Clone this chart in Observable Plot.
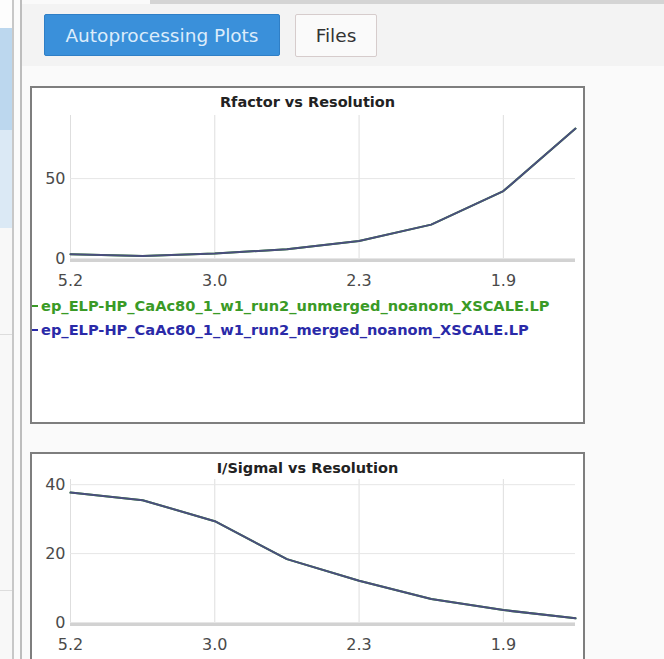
<!DOCTYPE html>
<html>
<head>
<meta charset="utf-8">
<script src="https://cdn.jsdelivr.net/npm/d3@7"></script>
<script src="https://cdn.jsdelivr.net/npm/@observablehq/plot@0.6"></script>
<style>
  html, body { margin:0; padding:0; }
  body { width:664px; height:659px; overflow:hidden; position:relative; background:#fafafa;
         font-family:"DejaVu Sans", Verdana, sans-serif; }
  .abs { position:absolute; }
  .btn { position:absolute; box-sizing:border-box; display:flex; align-items:center; justify-content:center; font-size:18.5px; border-radius:2px; }
  .box { position:absolute; box-sizing:border-box; border:2px solid #7e7e7e; background:#fff; overflow:hidden; }
  .ttl { position:absolute; left:0; width:100%; text-align:center; font-weight:bold; font-size:14.5px; color:#222; }
  .leg { position:absolute; left:0; font-weight:bold; font-size:14.6px; white-space:nowrap; display:flex; align-items:center; }
  .leg i { display:inline-block; width:6px; height:2px; margin-right:3px; }
</style>
</head>
<body>
<!-- left sidebar -->
<div class="abs" style="left:0;top:0;width:12px;height:659px;background:#f8f8f8"></div>
<div class="abs" style="left:0;top:0;width:12px;height:28px;background:#fdfdfd"></div>
<div class="abs" style="left:0;top:28px;width:12px;height:102px;background:#bcd7ee"></div>
<div class="abs" style="left:0;top:130px;width:12px;height:98px;background:#dbe9f5"></div>
<div class="abs" style="left:0;top:334px;width:12px;height:1px;background:#ddd"></div>
<div class="abs" style="left:0;top:590px;width:12px;height:1px;background:#ddd"></div>
<div class="abs" style="left:12px;top:0;width:2px;height:659px;background:#c8c8c8"></div>
<div class="abs" style="left:14px;top:0;width:6px;height:659px;background:#fbfbfb"></div>
<div class="abs" style="left:20px;top:0;width:2px;height:659px;background:#bdbdbd"></div>
<!-- main panel -->
<div class="abs" style="left:22px;top:0;width:642px;height:659px;background:#fafafa"></div>
<div class="abs" style="left:22px;top:4px;width:642px;height:62px;background:#f3f3f3"></div>
<div class="abs" style="left:150px;top:0;width:514px;height:4px;background:#d4d4d4"></div>
<div class="btn" style="left:44px;top:14px;width:236px;height:42px;background:#3a90da;color:#dcecfb;border:1px solid #2f7fc6">Autoprocessing Plots</div>
<div class="btn" style="left:295px;top:14px;width:82px;height:43px;background:#fafafa;color:#333;border:1px solid #d6cccc">Files</div>

<div class="box" style="left:30px;top:86px;width:555px;height:338px">
  <div class="ttl" style="top:6px">Rfactor vs Resolution</div>
  <div id="c1" class="abs" style="left:0;top:20px"></div>
  <div class="leg" style="top:209px;color:#3a9a26"><i style="background:#3a9a26"></i><span id="l1"></span></div>
  <div class="leg" style="top:233px;color:#2a2aa8"><i style="background:#2a2aa8"></i><span id="l2"></span></div>
</div>

<div class="box" style="left:30px;top:452px;width:555px;height:260px">
  <div class="ttl" style="top:6px">I/Sigmal vs Resolution</div>
  <div id="c2" class="abs" style="left:0;top:18px"></div>
</div>

<script>
// ---- data ----
const seriesNames = [
  "ep_ELP-HP_CaAc80_1_w1_run2_unmerged_noanom_XSCALE.LP",
  "ep_ELP-HP_CaAc80_1_w1_run2_merged_noanom_XSCALE.LP"
];
const binIndex = [0, 1, 2, 3, 4, 5, 6, 7];
const resTickIndex = [0, 2, 4, 6];
const resTickLabels = ["5.2", "3.0", "2.3", "1.9"];
const rfactorUnmerged = [2.7, 1.6, 3.1, 5.8, 10.9, 21.2, 42.2, 81.3];
const rfactorMerged   = [2.7, 1.6, 3.1, 5.8, 10.9, 21.2, 42.2, 81.3];
const isigUnmerged = [37.7, 35.5, 29.4, 18.4, 12.1, 6.8, 3.6, 1.2];
const isigMerged   = [37.7, 35.5, 29.4, 18.4, 12.1, 6.8, 3.6, 1.2];

document.getElementById("l1").textContent = seriesNames[0];
document.getElementById("l2").textContent = seriesNames[1];

function rows(vals, name) { return binIndex.map((b, i) => ({bin: b, value: vals[i], series: name})); }

function chart(unmerged, merged, yMax, yTicks) {
  const data = [...rows(unmerged, seriesNames[0]), ...rows(merged, seriesNames[1])];
  return Plot.plot({
    width: 551,
    height: 186,
    marginLeft: 38,
    marginRight: 8,
    marginTop: 7,
    marginBottom: 36,
    style: {fontFamily: "'DejaVu Sans', Verdana, sans-serif", fontSize: "16px", color: "#4a4a4a", background: "transparent", overflow: "visible"},
    x: {domain: [0, 7]},
    y: {domain: [0, yMax]},
    marks: [
      Plot.gridX(resTickIndex, {stroke: "#dedede", strokeOpacity: 1}),
      Plot.gridY(yTicks, {stroke: "#e6e6e6", strokeOpacity: 1}),
      Plot.ruleY([0], {stroke: "#d2d2d2", strokeWidth: 3, dy: 2}),
      Plot.line(data.filter(d => d.series === seriesNames[0]), {x: "bin", y: "value", stroke: "#3a9a26", strokeWidth: 2}),
      Plot.line(data.filter(d => d.series === seriesNames[1]), {x: "bin", y: "value", stroke: "#4a4e7e", strokeWidth: 2}),
      Plot.axisX(resTickIndex, {tickSize: 0, tickPadding: 16, tickFormat: (d) => resTickLabels[resTickIndex.indexOf(d)], label: null}),
      Plot.axisY(yTicks, {tickSize: 0, tickPadding: 5, label: null})
    ]
  });
}

document.getElementById("c1").appendChild(chart(rfactorUnmerged, rfactorMerged, 89.5, [0, 50]));
document.getElementById("c2").appendChild(chart(isigUnmerged, isigMerged, 41.5, [0, 20, 40]));
</script>
</body>
</html>
